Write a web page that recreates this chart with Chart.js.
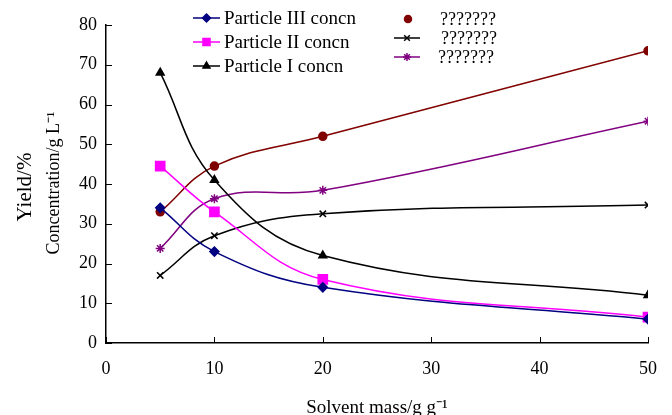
<!DOCTYPE html>
<html>
<head>
<meta charset="utf-8">
<script src="https://cdn.jsdelivr.net/npm/chart.js@4"></script>
<style>
  body { margin: 0; background: #fff; }
</style>
</head>
<body>
<canvas id="myChart" width="672" height="415"></canvas>
<script>
const solventMass = [5, 10, 20, 50];
const particle3 = [34, 23, 14, 6];
const particle2 = [44.5, 33, 16, 6.5];
const particle1 = [68, 41, 22, 12];
const seriesA = [33, 44.5, 52, 73.5];
const seriesB = [17, 27, 32.5, 34.7];
const seriesC = [23.8, 36.3, 38.4, 55.8];
const xTicks = [0, 10, 20, 30, 40, 50];
const yTicks = [0, 10, 20, 30, 40, 50, 60, 70, 80];

const serif = "'Liberation Serif', 'Times New Roman', serif";

function pts(ys) {
	return solventMass.map((x, i) => ({ x: x, y: ys[i] }));
}

function series(label, ys, color, style, radius, showLine) {
	return {
		label: label,
		data: pts(ys),
		borderColor: color,
		backgroundColor: color,
		pointStyle: style,
		pointRadius: radius,
		pointBorderWidth: 1.5,
		borderWidth: 1.5,
		tension: 0.4,
		legendLine: showLine
	};
}

const datasets = [
	series('Particle III concn', particle3, '#000080', 'rectRot', 4.5, true),
	series('Particle II concn', particle2, '#ff00ff', 'rect', 6.5, true),
	series('Particle I concn', particle1, '#000000', 'triangle', 4.5, true),
	series('???????', seriesA, '#800000', 'circle', 4, false),
	series('???????', seriesB, '#000000', 'crossRot', 4.5, true),
	series('???????', seriesC, '#800080', 'star', 4.5, true)
];

// legend: two columns inside the plot, like the original
const legendSpots = [
	{ x1: 193, x2: 220, tx: 224, y: 18 },
	{ x1: 193, x2: 220, tx: 224, y: 42 },
	{ x1: 193, x2: 220, tx: 224, y: 66 },
	{ x1: 396, x2: 420, tx: 440, y: 19 },
	{ x1: 394, x2: 420, tx: 441, y: 38 },
	{ x1: 394, x2: 420, tx: 438, y: 57 }
];

const legendPlugin = {
	id: 'boxLegend',
	afterDraw(chart) {
		const ctx = chart.ctx;
		ctx.save();
		chart.data.datasets.forEach((ds, i) => {
			const s = legendSpots[i];
			if (ds.legendLine) {
				ctx.strokeStyle = ds.borderColor;
				ctx.lineWidth = 1.5;
				ctx.beginPath();
				ctx.moveTo(s.x1, s.y);
				ctx.lineTo(s.x2, s.y);
				ctx.stroke();
			}
			ctx.fillStyle = ds.backgroundColor;
			ctx.strokeStyle = ds.borderColor;
			ctx.lineWidth = 1.5;
			Chart.helpers.drawPoint(ctx, {
				pointStyle: ds.pointStyle,
				radius: ds.pointStyle === 'rect' ? 5 : ds.pointRadius - 0.5,
				rotation: 0,
				borderWidth: 1.5
			}, (s.x1 + s.x2) / 2, s.y);
			ctx.fillStyle = '#000';
			ctx.font = (i < 3 ? '19px ' : '18px ') + serif;
			ctx.textBaseline = 'middle';
			ctx.textAlign = 'left';
			ctx.fillText(ds.label, s.tx, s.y + 1);
		});
		ctx.restore();
	}
};

// two stacked y titles (different sizes in the original)
const yTitles = {
	id: 'yTitles',
	afterDraw(chart) {
		const ctx = chart.ctx;
		const mid = (chart.chartArea.top + chart.chartArea.bottom) / 2;
		ctx.save();
		ctx.fillStyle = '#000';
		ctx.textAlign = 'center';
		ctx.textBaseline = 'middle';
		ctx.translate(25, mid + 3);
		ctx.rotate(-Math.PI / 2);
		ctx.font = '21px ' + serif;
		ctx.fillText('Yield/%', 0, 0);
		ctx.restore();
		ctx.save();
		ctx.fillStyle = '#000';
		ctx.textAlign = 'center';
		ctx.textBaseline = 'middle';
		ctx.translate(54, mid - 1);
		ctx.rotate(-Math.PI / 2);
		ctx.font = '18px ' + serif;
		ctx.fillText('Concentration/g L\u207b\u00b9', 0, 0);
		ctx.restore();
	}
};

// short tick marks pointing into the plot
const innerTicks = {
	id: 'innerTicks',
	afterDatasetsDraw(chart) {
		const ctx = chart.ctx;
		const xs = chart.scales.x, ys = chart.scales.y;
		ctx.save();
		ctx.strokeStyle = '#000';
		ctx.lineWidth = 1;
		ctx.beginPath();
		xTicks.forEach(v => {
			const px = Math.round(xs.getPixelForValue(v)) + 0.5;
			ctx.moveTo(px, ys.bottom);
			ctx.lineTo(px, ys.bottom - 6);
		});
		yTicks.forEach(v => {
			const py = Math.round(ys.getPixelForValue(v)) + 0.5;
			ctx.moveTo(xs.left, py);
			ctx.lineTo(xs.left + 6, py);
		});
		ctx.stroke();
		ctx.restore();
	}
};

const options = {
	responsive: false,
	animation: false,
	layout: { padding: { left: 0, right: 22, top: 25, bottom: 0 } },
	plugins: {
		legend: { display: false },
		tooltip: { enabled: false }
	},
	scales: {
		x: {
			type: 'linear',
			min: 0,
			max: 50,
			afterBuildTicks(scale) { scale.ticks = xTicks.map(v => ({ value: v })); },
			afterFit(scale) { scale.height = 72; },
			grid: { display: false, drawTicks: false },
			border: { display: true, color: '#000', width: 1.5 },
			ticks: { color: '#000', font: { family: serif, size: 18 }, padding: 15 },
			title: {
				display: true,
				text: 'Solvent mass/g g\u207b\u00b9',
				color: '#000',
				font: { family: serif, size: 19 },
				padding: { top: 0, bottom: -4 }
			}
		},
		y: {
			min: 0,
			max: 80,
			afterBuildTicks(scale) { scale.ticks = yTicks.map(v => ({ value: v })); },
			afterFit(scale) { scale.width = 106; },
			grid: { display: false, drawTicks: false },
			border: { display: true, color: '#000', width: 1.5 },
			ticks: { color: '#000', font: { family: serif, size: 18 }, padding: 9 },
			title: { display: false }
		}
	}
};

const myChart = new Chart(document.getElementById('myChart'), {
	type: 'line',
	data: { datasets },
	options,
	plugins: [innerTicks, legendPlugin, yTitles]
});
</script>
</body>
</html>
